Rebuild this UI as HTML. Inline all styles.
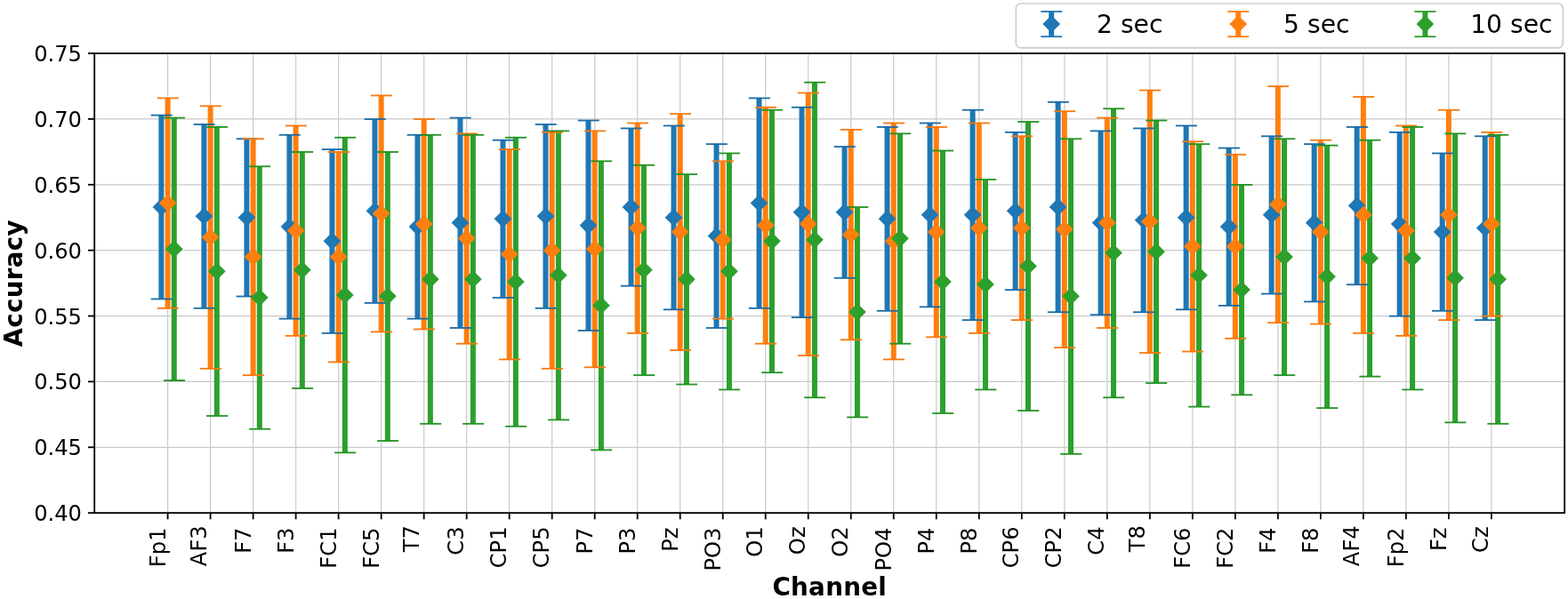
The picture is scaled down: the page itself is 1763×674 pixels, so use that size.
<!DOCTYPE html>
<html lang="en"><head><meta charset="utf-8"><title>Accuracy per channel</title>
<style>html,body{margin:0;padding:0;background:#fff}body{width:1763px;height:674px;overflow:hidden}svg{display:block}text{font-family:'DejaVu Sans','Liberation Sans',sans-serif;fill:#000}.b{font-weight:bold}</style></head><body>
<svg width="1763" height="674" viewBox="0 0 1763 674">
<rect x="0" y="0" width="1763" height="674" fill="#fff"/>
<g stroke="#cacaca" stroke-width="1.2" fill="none"><line x1="188.6" y1="60.05" x2="188.6" y2="577.15"/><line x1="236.61" y1="60.05" x2="236.61" y2="577.15"/><line x1="284.62" y1="60.05" x2="284.62" y2="577.15"/><line x1="332.63" y1="60.05" x2="332.63" y2="577.15"/><line x1="380.64" y1="60.05" x2="380.64" y2="577.15"/><line x1="428.65" y1="60.05" x2="428.65" y2="577.15"/><line x1="476.66" y1="60.05" x2="476.66" y2="577.15"/><line x1="524.67" y1="60.05" x2="524.67" y2="577.15"/><line x1="572.68" y1="60.05" x2="572.68" y2="577.15"/><line x1="620.69" y1="60.05" x2="620.69" y2="577.15"/><line x1="668.7" y1="60.05" x2="668.7" y2="577.15"/><line x1="716.71" y1="60.05" x2="716.71" y2="577.15"/><line x1="764.72" y1="60.05" x2="764.72" y2="577.15"/><line x1="812.73" y1="60.05" x2="812.73" y2="577.15"/><line x1="860.74" y1="60.05" x2="860.74" y2="577.15"/><line x1="908.75" y1="60.05" x2="908.75" y2="577.15"/><line x1="956.76" y1="60.05" x2="956.76" y2="577.15"/><line x1="1004.77" y1="60.05" x2="1004.77" y2="577.15"/><line x1="1052.78" y1="60.05" x2="1052.78" y2="577.15"/><line x1="1100.79" y1="60.05" x2="1100.79" y2="577.15"/><line x1="1148.8" y1="60.05" x2="1148.8" y2="577.15"/><line x1="1196.81" y1="60.05" x2="1196.81" y2="577.15"/><line x1="1244.82" y1="60.05" x2="1244.82" y2="577.15"/><line x1="1292.83" y1="60.05" x2="1292.83" y2="577.15"/><line x1="1340.84" y1="60.05" x2="1340.84" y2="577.15"/><line x1="1388.85" y1="60.05" x2="1388.85" y2="577.15"/><line x1="1436.86" y1="60.05" x2="1436.86" y2="577.15"/><line x1="1484.87" y1="60.05" x2="1484.87" y2="577.15"/><line x1="1532.88" y1="60.05" x2="1532.88" y2="577.15"/><line x1="1580.89" y1="60.05" x2="1580.89" y2="577.15"/><line x1="1628.9" y1="60.05" x2="1628.9" y2="577.15"/><line x1="1676.91" y1="60.05" x2="1676.91" y2="577.15"/></g><g stroke="#cacaca" stroke-width="1.3" fill="none"><line x1="106.2" y1="577.15" x2="1759.15" y2="577.15"/><line x1="106.2" y1="503.28" x2="1759.15" y2="503.28"/><line x1="106.2" y1="429.41" x2="1759.15" y2="429.41"/><line x1="106.2" y1="355.54" x2="1759.15" y2="355.54"/><line x1="106.2" y1="281.66" x2="1759.15" y2="281.66"/><line x1="106.2" y1="207.79" x2="1759.15" y2="207.79"/><line x1="106.2" y1="133.92" x2="1759.15" y2="133.92"/><line x1="106.2" y1="60.05" x2="1759.15" y2="60.05"/></g>
<g stroke="#1f77b4" stroke-width="6" fill="none"><line x1="181.4" y1="129.49" x2="181.4" y2="336.33"/><line x1="229.41" y1="139.83" x2="229.41" y2="346.67"/><line x1="277.42" y1="156.08" x2="277.42" y2="333.37"/><line x1="325.43" y1="151.65" x2="325.43" y2="358.49"/><line x1="373.44" y1="167.9" x2="373.44" y2="374.74"/><line x1="421.45" y1="133.92" x2="421.45" y2="340.76"/><line x1="469.46" y1="151.65" x2="469.46" y2="358.49"/><line x1="517.47" y1="132.44" x2="517.47" y2="368.83"/><line x1="565.48" y1="157.56" x2="565.48" y2="334.85"/><line x1="613.49" y1="139.83" x2="613.49" y2="346.67"/><line x1="661.5" y1="135.4" x2="661.5" y2="371.79"/><line x1="709.51" y1="144.26" x2="709.51" y2="321.55"/><line x1="757.52" y1="141.31" x2="757.52" y2="348.15"/><line x1="805.53" y1="161.99" x2="805.53" y2="368.83"/><line x1="853.54" y1="110.28" x2="853.54" y2="346.67"/><line x1="901.55" y1="120.62" x2="901.55" y2="357.01"/><line x1="949.56" y1="164.95" x2="949.56" y2="312.69"/><line x1="997.57" y1="142.79" x2="997.57" y2="349.63"/><line x1="1045.58" y1="138.35" x2="1045.58" y2="345.19"/><line x1="1093.59" y1="123.58" x2="1093.59" y2="359.97"/><line x1="1141.6" y1="148.7" x2="1141.6" y2="325.99"/><line x1="1189.61" y1="114.71" x2="1189.61" y2="351.1"/><line x1="1237.62" y1="147.22" x2="1237.62" y2="354.06"/><line x1="1285.63" y1="144.26" x2="1285.63" y2="351.1"/><line x1="1333.64" y1="141.31" x2="1333.64" y2="348.15"/><line x1="1381.65" y1="166.42" x2="1381.65" y2="343.72"/><line x1="1429.66" y1="153.13" x2="1429.66" y2="330.42"/><line x1="1477.67" y1="161.99" x2="1477.67" y2="339.28"/><line x1="1525.68" y1="142.79" x2="1525.68" y2="320.08"/><line x1="1573.69" y1="148.7" x2="1573.69" y2="355.54"/><line x1="1621.7" y1="172.33" x2="1621.7" y2="349.63"/><line x1="1669.71" y1="153.13" x2="1669.71" y2="359.97"/></g>
<g stroke="#ff7f0e" stroke-width="6" fill="none"><line x1="188.6" y1="110.28" x2="188.6" y2="346.67"/><line x1="236.61" y1="119.15" x2="236.61" y2="414.63"/><line x1="284.62" y1="156.08" x2="284.62" y2="422.02"/><line x1="332.63" y1="141.31" x2="332.63" y2="377.7"/><line x1="380.64" y1="170.86" x2="380.64" y2="407.25"/><line x1="428.65" y1="107.33" x2="428.65" y2="373.26"/><line x1="476.66" y1="133.92" x2="476.66" y2="370.31"/><line x1="524.67" y1="150.17" x2="524.67" y2="386.56"/><line x1="572.68" y1="167.9" x2="572.68" y2="404.29"/><line x1="620.69" y1="148.7" x2="620.69" y2="414.63"/><line x1="668.7" y1="147.22" x2="668.7" y2="413.16"/><line x1="716.71" y1="138.35" x2="716.71" y2="374.74"/><line x1="764.72" y1="128.01" x2="764.72" y2="393.95"/><line x1="812.73" y1="181.2" x2="812.73" y2="358.49"/><line x1="860.74" y1="120.62" x2="860.74" y2="386.56"/><line x1="908.75" y1="104.37" x2="908.75" y2="399.86"/><line x1="956.76" y1="145.74" x2="956.76" y2="382.13"/><line x1="1004.77" y1="138.35" x2="1004.77" y2="404.29"/><line x1="1052.78" y1="142.79" x2="1052.78" y2="379.17"/><line x1="1100.79" y1="138.35" x2="1100.79" y2="374.74"/><line x1="1148.8" y1="153.13" x2="1148.8" y2="359.97"/><line x1="1196.81" y1="125.06" x2="1196.81" y2="390.99"/><line x1="1244.82" y1="132.44" x2="1244.82" y2="368.83"/><line x1="1292.83" y1="101.42" x2="1292.83" y2="396.9"/><line x1="1340.84" y1="159.04" x2="1340.84" y2="395.43"/><line x1="1388.85" y1="173.81" x2="1388.85" y2="380.65"/><line x1="1436.86" y1="96.99" x2="1436.86" y2="362.92"/><line x1="1484.87" y1="157.56" x2="1484.87" y2="364.4"/><line x1="1532.88" y1="108.81" x2="1532.88" y2="374.74"/><line x1="1580.89" y1="141.31" x2="1580.89" y2="377.7"/><line x1="1628.9" y1="123.58" x2="1628.9" y2="359.97"/><line x1="1676.91" y1="148.7" x2="1676.91" y2="355.54"/></g>
<g stroke="#2ca02c" stroke-width="6" fill="none"><line x1="195.8" y1="132.44" x2="195.8" y2="427.93"/><line x1="243.81" y1="142.79" x2="243.81" y2="467.82"/><line x1="291.82" y1="187.11" x2="291.82" y2="482.59"/><line x1="339.83" y1="170.86" x2="339.83" y2="436.79"/><line x1="387.84" y1="154.61" x2="387.84" y2="509.19"/><line x1="435.85" y1="170.86" x2="435.85" y2="495.89"/><line x1="483.86" y1="151.65" x2="483.86" y2="476.68"/><line x1="531.87" y1="151.65" x2="531.87" y2="476.68"/><line x1="579.88" y1="154.61" x2="579.88" y2="479.64"/><line x1="627.89" y1="147.22" x2="627.89" y2="472.25"/><line x1="675.9" y1="181.2" x2="675.9" y2="506.23"/><line x1="723.91" y1="185.63" x2="723.91" y2="422.02"/><line x1="771.92" y1="195.97" x2="771.92" y2="432.36"/><line x1="819.93" y1="172.33" x2="819.93" y2="438.27"/><line x1="867.94" y1="123.58" x2="867.94" y2="419.07"/><line x1="915.95" y1="92.55" x2="915.95" y2="447.14"/><line x1="963.96" y1="232.91" x2="963.96" y2="469.3"/><line x1="1011.97" y1="150.17" x2="1011.97" y2="386.56"/><line x1="1059.98" y1="169.38" x2="1059.98" y2="464.87"/><line x1="1107.99" y1="201.88" x2="1107.99" y2="438.27"/><line x1="1156" y1="136.88" x2="1156" y2="461.91"/><line x1="1204.01" y1="156.08" x2="1204.01" y2="510.67"/><line x1="1252.02" y1="122.1" x2="1252.02" y2="447.14"/><line x1="1300.03" y1="135.4" x2="1300.03" y2="430.88"/><line x1="1348.04" y1="161.99" x2="1348.04" y2="457.48"/><line x1="1396.05" y1="207.79" x2="1396.05" y2="444.18"/><line x1="1444.06" y1="156.08" x2="1444.06" y2="422.02"/><line x1="1492.07" y1="163.47" x2="1492.07" y2="458.96"/><line x1="1540.08" y1="157.56" x2="1540.08" y2="423.5"/><line x1="1588.09" y1="142.79" x2="1588.09" y2="438.27"/><line x1="1636.1" y1="150.17" x2="1636.1" y2="475.21"/><line x1="1684.11" y1="151.65" x2="1684.11" y2="476.68"/></g>
<g stroke="#1a6ba5" stroke-width="1.8" fill="none"><line x1="169.65" y1="336.48" x2="193.65" y2="336.48"/><line x1="169.65" y1="129.64" x2="193.65" y2="129.64"/><line x1="217.66" y1="346.82" x2="241.66" y2="346.82"/><line x1="217.66" y1="139.98" x2="241.66" y2="139.98"/><line x1="265.67" y1="333.52" x2="289.67" y2="333.52"/><line x1="265.67" y1="156.23" x2="289.67" y2="156.23"/><line x1="313.68" y1="358.64" x2="337.68" y2="358.64"/><line x1="313.68" y1="151.8" x2="337.68" y2="151.8"/><line x1="361.69" y1="374.89" x2="385.69" y2="374.89"/><line x1="361.69" y1="168.05" x2="385.69" y2="168.05"/><line x1="409.7" y1="340.91" x2="433.7" y2="340.91"/><line x1="409.7" y1="134.07" x2="433.7" y2="134.07"/><line x1="457.71" y1="358.64" x2="481.71" y2="358.64"/><line x1="457.71" y1="151.8" x2="481.71" y2="151.8"/><line x1="505.72" y1="368.98" x2="529.72" y2="368.98"/><line x1="505.72" y1="132.59" x2="529.72" y2="132.59"/><line x1="553.73" y1="335" x2="577.73" y2="335"/><line x1="553.73" y1="157.71" x2="577.73" y2="157.71"/><line x1="601.74" y1="346.82" x2="625.74" y2="346.82"/><line x1="601.74" y1="139.98" x2="625.74" y2="139.98"/><line x1="649.75" y1="371.94" x2="673.75" y2="371.94"/><line x1="649.75" y1="135.55" x2="673.75" y2="135.55"/><line x1="697.76" y1="321.7" x2="721.76" y2="321.7"/><line x1="697.76" y1="144.41" x2="721.76" y2="144.41"/><line x1="745.77" y1="348.3" x2="769.77" y2="348.3"/><line x1="745.77" y1="141.46" x2="769.77" y2="141.46"/><line x1="793.78" y1="368.98" x2="817.78" y2="368.98"/><line x1="793.78" y1="162.14" x2="817.78" y2="162.14"/><line x1="841.79" y1="346.82" x2="865.79" y2="346.82"/><line x1="841.79" y1="110.43" x2="865.79" y2="110.43"/><line x1="889.8" y1="357.16" x2="913.8" y2="357.16"/><line x1="889.8" y1="120.77" x2="913.8" y2="120.77"/><line x1="937.81" y1="312.84" x2="961.81" y2="312.84"/><line x1="937.81" y1="165.1" x2="961.81" y2="165.1"/><line x1="985.82" y1="349.78" x2="1009.82" y2="349.78"/><line x1="985.82" y1="142.94" x2="1009.82" y2="142.94"/><line x1="1033.83" y1="345.34" x2="1057.83" y2="345.34"/><line x1="1033.83" y1="138.5" x2="1057.83" y2="138.5"/><line x1="1081.84" y1="360.12" x2="1105.84" y2="360.12"/><line x1="1081.84" y1="123.73" x2="1105.84" y2="123.73"/><line x1="1129.85" y1="326.14" x2="1153.85" y2="326.14"/><line x1="1129.85" y1="148.85" x2="1153.85" y2="148.85"/><line x1="1177.86" y1="351.25" x2="1201.86" y2="351.25"/><line x1="1177.86" y1="114.86" x2="1201.86" y2="114.86"/><line x1="1225.87" y1="354.21" x2="1249.87" y2="354.21"/><line x1="1225.87" y1="147.37" x2="1249.87" y2="147.37"/><line x1="1273.88" y1="351.25" x2="1297.88" y2="351.25"/><line x1="1273.88" y1="144.41" x2="1297.88" y2="144.41"/><line x1="1321.89" y1="348.3" x2="1345.89" y2="348.3"/><line x1="1321.89" y1="141.46" x2="1345.89" y2="141.46"/><line x1="1369.9" y1="343.87" x2="1393.9" y2="343.87"/><line x1="1369.9" y1="166.57" x2="1393.9" y2="166.57"/><line x1="1417.91" y1="330.57" x2="1441.91" y2="330.57"/><line x1="1417.91" y1="153.28" x2="1441.91" y2="153.28"/><line x1="1465.92" y1="339.43" x2="1489.92" y2="339.43"/><line x1="1465.92" y1="162.14" x2="1489.92" y2="162.14"/><line x1="1513.93" y1="320.23" x2="1537.93" y2="320.23"/><line x1="1513.93" y1="142.94" x2="1537.93" y2="142.94"/><line x1="1561.94" y1="355.69" x2="1585.94" y2="355.69"/><line x1="1561.94" y1="148.85" x2="1585.94" y2="148.85"/><line x1="1609.95" y1="349.78" x2="1633.95" y2="349.78"/><line x1="1609.95" y1="172.48" x2="1633.95" y2="172.48"/><line x1="1657.96" y1="360.12" x2="1681.96" y2="360.12"/><line x1="1657.96" y1="153.28" x2="1681.96" y2="153.28"/></g>
<g stroke="#f7780b" stroke-width="1.8" fill="none"><line x1="176.85" y1="346.82" x2="200.85" y2="346.82"/><line x1="176.85" y1="110.43" x2="200.85" y2="110.43"/><line x1="224.86" y1="414.78" x2="248.86" y2="414.78"/><line x1="224.86" y1="119.3" x2="248.86" y2="119.3"/><line x1="272.87" y1="422.17" x2="296.87" y2="422.17"/><line x1="272.87" y1="156.23" x2="296.87" y2="156.23"/><line x1="320.88" y1="377.85" x2="344.88" y2="377.85"/><line x1="320.88" y1="141.46" x2="344.88" y2="141.46"/><line x1="368.89" y1="407.4" x2="392.89" y2="407.4"/><line x1="368.89" y1="171.01" x2="392.89" y2="171.01"/><line x1="416.9" y1="373.41" x2="440.9" y2="373.41"/><line x1="416.9" y1="107.48" x2="440.9" y2="107.48"/><line x1="464.91" y1="370.46" x2="488.91" y2="370.46"/><line x1="464.91" y1="134.07" x2="488.91" y2="134.07"/><line x1="512.92" y1="386.71" x2="536.92" y2="386.71"/><line x1="512.92" y1="150.32" x2="536.92" y2="150.32"/><line x1="560.93" y1="404.44" x2="584.93" y2="404.44"/><line x1="560.93" y1="168.05" x2="584.93" y2="168.05"/><line x1="608.94" y1="414.78" x2="632.94" y2="414.78"/><line x1="608.94" y1="148.85" x2="632.94" y2="148.85"/><line x1="656.95" y1="413.31" x2="680.95" y2="413.31"/><line x1="656.95" y1="147.37" x2="680.95" y2="147.37"/><line x1="704.96" y1="374.89" x2="728.96" y2="374.89"/><line x1="704.96" y1="138.5" x2="728.96" y2="138.5"/><line x1="752.97" y1="394.1" x2="776.97" y2="394.1"/><line x1="752.97" y1="128.16" x2="776.97" y2="128.16"/><line x1="800.98" y1="358.64" x2="824.98" y2="358.64"/><line x1="800.98" y1="181.35" x2="824.98" y2="181.35"/><line x1="848.99" y1="386.71" x2="872.99" y2="386.71"/><line x1="848.99" y1="120.77" x2="872.99" y2="120.77"/><line x1="897" y1="400.01" x2="921" y2="400.01"/><line x1="897" y1="104.52" x2="921" y2="104.52"/><line x1="945.01" y1="382.28" x2="969.01" y2="382.28"/><line x1="945.01" y1="145.89" x2="969.01" y2="145.89"/><line x1="993.02" y1="404.44" x2="1017.02" y2="404.44"/><line x1="993.02" y1="138.5" x2="1017.02" y2="138.5"/><line x1="1041.03" y1="379.32" x2="1065.03" y2="379.32"/><line x1="1041.03" y1="142.94" x2="1065.03" y2="142.94"/><line x1="1089.04" y1="374.89" x2="1113.04" y2="374.89"/><line x1="1089.04" y1="138.5" x2="1113.04" y2="138.5"/><line x1="1137.05" y1="360.12" x2="1161.05" y2="360.12"/><line x1="1137.05" y1="153.28" x2="1161.05" y2="153.28"/><line x1="1185.06" y1="391.14" x2="1209.06" y2="391.14"/><line x1="1185.06" y1="125.21" x2="1209.06" y2="125.21"/><line x1="1233.07" y1="368.98" x2="1257.07" y2="368.98"/><line x1="1233.07" y1="132.59" x2="1257.07" y2="132.59"/><line x1="1281.08" y1="397.05" x2="1305.08" y2="397.05"/><line x1="1281.08" y1="101.57" x2="1305.08" y2="101.57"/><line x1="1329.09" y1="395.58" x2="1353.09" y2="395.58"/><line x1="1329.09" y1="159.19" x2="1353.09" y2="159.19"/><line x1="1377.1" y1="380.8" x2="1401.1" y2="380.8"/><line x1="1377.1" y1="173.96" x2="1401.1" y2="173.96"/><line x1="1425.11" y1="363.07" x2="1449.11" y2="363.07"/><line x1="1425.11" y1="97.14" x2="1449.11" y2="97.14"/><line x1="1473.12" y1="364.55" x2="1497.12" y2="364.55"/><line x1="1473.12" y1="157.71" x2="1497.12" y2="157.71"/><line x1="1521.13" y1="374.89" x2="1545.13" y2="374.89"/><line x1="1521.13" y1="108.96" x2="1545.13" y2="108.96"/><line x1="1569.14" y1="377.85" x2="1593.14" y2="377.85"/><line x1="1569.14" y1="141.46" x2="1593.14" y2="141.46"/><line x1="1617.15" y1="360.12" x2="1641.15" y2="360.12"/><line x1="1617.15" y1="123.73" x2="1641.15" y2="123.73"/><line x1="1665.16" y1="355.69" x2="1689.16" y2="355.69"/><line x1="1665.16" y1="148.85" x2="1689.16" y2="148.85"/></g>
<g stroke="#229322" stroke-width="1.8" fill="none"><line x1="184.05" y1="428.08" x2="208.05" y2="428.08"/><line x1="184.05" y1="132.59" x2="208.05" y2="132.59"/><line x1="232.06" y1="467.97" x2="256.06" y2="467.97"/><line x1="232.06" y1="142.94" x2="256.06" y2="142.94"/><line x1="280.07" y1="482.74" x2="304.07" y2="482.74"/><line x1="280.07" y1="187.26" x2="304.07" y2="187.26"/><line x1="328.08" y1="436.94" x2="352.08" y2="436.94"/><line x1="328.08" y1="171.01" x2="352.08" y2="171.01"/><line x1="376.09" y1="509.34" x2="400.09" y2="509.34"/><line x1="376.09" y1="154.76" x2="400.09" y2="154.76"/><line x1="424.1" y1="496.04" x2="448.1" y2="496.04"/><line x1="424.1" y1="171.01" x2="448.1" y2="171.01"/><line x1="472.11" y1="476.83" x2="496.11" y2="476.83"/><line x1="472.11" y1="151.8" x2="496.11" y2="151.8"/><line x1="520.12" y1="476.83" x2="544.12" y2="476.83"/><line x1="520.12" y1="151.8" x2="544.12" y2="151.8"/><line x1="568.13" y1="479.79" x2="592.13" y2="479.79"/><line x1="568.13" y1="154.76" x2="592.13" y2="154.76"/><line x1="616.14" y1="472.4" x2="640.14" y2="472.4"/><line x1="616.14" y1="147.37" x2="640.14" y2="147.37"/><line x1="664.15" y1="506.38" x2="688.15" y2="506.38"/><line x1="664.15" y1="181.35" x2="688.15" y2="181.35"/><line x1="712.16" y1="422.17" x2="736.16" y2="422.17"/><line x1="712.16" y1="185.78" x2="736.16" y2="185.78"/><line x1="760.17" y1="432.51" x2="784.17" y2="432.51"/><line x1="760.17" y1="196.12" x2="784.17" y2="196.12"/><line x1="808.18" y1="438.42" x2="832.18" y2="438.42"/><line x1="808.18" y1="172.48" x2="832.18" y2="172.48"/><line x1="856.19" y1="419.22" x2="880.19" y2="419.22"/><line x1="856.19" y1="123.73" x2="880.19" y2="123.73"/><line x1="904.2" y1="447.29" x2="928.2" y2="447.29"/><line x1="904.2" y1="92.7" x2="928.2" y2="92.7"/><line x1="952.21" y1="469.45" x2="976.21" y2="469.45"/><line x1="952.21" y1="233.06" x2="976.21" y2="233.06"/><line x1="1000.22" y1="386.71" x2="1024.22" y2="386.71"/><line x1="1000.22" y1="150.32" x2="1024.22" y2="150.32"/><line x1="1048.23" y1="465.02" x2="1072.23" y2="465.02"/><line x1="1048.23" y1="169.53" x2="1072.23" y2="169.53"/><line x1="1096.24" y1="438.42" x2="1120.24" y2="438.42"/><line x1="1096.24" y1="202.03" x2="1120.24" y2="202.03"/><line x1="1144.25" y1="462.06" x2="1168.25" y2="462.06"/><line x1="1144.25" y1="137.03" x2="1168.25" y2="137.03"/><line x1="1192.26" y1="510.82" x2="1216.26" y2="510.82"/><line x1="1192.26" y1="156.23" x2="1216.26" y2="156.23"/><line x1="1240.27" y1="447.29" x2="1264.27" y2="447.29"/><line x1="1240.27" y1="122.25" x2="1264.27" y2="122.25"/><line x1="1288.28" y1="431.03" x2="1312.28" y2="431.03"/><line x1="1288.28" y1="135.55" x2="1312.28" y2="135.55"/><line x1="1336.29" y1="457.63" x2="1360.29" y2="457.63"/><line x1="1336.29" y1="162.14" x2="1360.29" y2="162.14"/><line x1="1384.3" y1="444.33" x2="1408.3" y2="444.33"/><line x1="1384.3" y1="207.94" x2="1408.3" y2="207.94"/><line x1="1432.31" y1="422.17" x2="1456.31" y2="422.17"/><line x1="1432.31" y1="156.23" x2="1456.31" y2="156.23"/><line x1="1480.32" y1="459.11" x2="1504.32" y2="459.11"/><line x1="1480.32" y1="163.62" x2="1504.32" y2="163.62"/><line x1="1528.33" y1="423.65" x2="1552.33" y2="423.65"/><line x1="1528.33" y1="157.71" x2="1552.33" y2="157.71"/><line x1="1576.34" y1="438.42" x2="1600.34" y2="438.42"/><line x1="1576.34" y1="142.94" x2="1600.34" y2="142.94"/><line x1="1624.35" y1="475.36" x2="1648.35" y2="475.36"/><line x1="1624.35" y1="150.32" x2="1648.35" y2="150.32"/><line x1="1672.36" y1="476.83" x2="1696.36" y2="476.83"/><line x1="1672.36" y1="151.8" x2="1696.36" y2="151.8"/></g>
<g fill="#1f77b4" stroke="none"><path d="M171.55 232.91L181.4 223.06L191.25 232.91L181.4 242.76Z"/><path d="M219.56 243.25L229.41 233.4L239.26 243.25L229.41 253.1Z"/><path d="M267.57 244.73L277.42 234.88L287.27 244.73L277.42 254.58Z"/><path d="M315.58 255.07L325.43 245.22L335.28 255.07L325.43 264.92Z"/><path d="M363.59 271.32L373.44 261.47L383.29 271.32L373.44 281.17Z"/><path d="M411.6 237.34L421.45 227.49L431.3 237.34L421.45 247.19Z"/><path d="M459.61 255.07L469.46 245.22L479.31 255.07L469.46 264.92Z"/><path d="M507.62 250.64L517.47 240.79L527.32 250.64L517.47 260.49Z"/><path d="M555.63 246.21L565.48 236.36L575.33 246.21L565.48 256.06Z"/><path d="M603.64 243.25L613.49 233.4L623.34 243.25L613.49 253.1Z"/><path d="M651.65 253.59L661.5 243.74L671.35 253.59L661.5 263.44Z"/><path d="M699.66 232.91L709.51 223.06L719.36 232.91L709.51 242.76Z"/><path d="M747.67 244.73L757.52 234.88L767.37 244.73L757.52 254.58Z"/><path d="M795.68 265.41L805.53 255.56L815.38 265.41L805.53 275.26Z"/><path d="M843.69 228.48L853.54 218.63L863.39 228.48L853.54 238.33Z"/><path d="M891.7 238.82L901.55 228.97L911.4 238.82L901.55 248.67Z"/><path d="M939.71 238.82L949.56 228.97L959.41 238.82L949.56 248.67Z"/><path d="M987.72 246.21L997.57 236.36L1007.42 246.21L997.57 256.06Z"/><path d="M1035.73 241.77L1045.58 231.92L1055.43 241.77L1045.58 251.62Z"/><path d="M1083.74 241.77L1093.59 231.92L1103.44 241.77L1093.59 251.62Z"/><path d="M1131.75 237.34L1141.6 227.49L1151.45 237.34L1141.6 247.19Z"/><path d="M1179.76 232.91L1189.61 223.06L1199.46 232.91L1189.61 242.76Z"/><path d="M1227.77 250.64L1237.62 240.79L1247.47 250.64L1237.62 260.49Z"/><path d="M1275.78 247.68L1285.63 237.83L1295.48 247.68L1285.63 257.53Z"/><path d="M1323.79 244.73L1333.64 234.88L1343.49 244.73L1333.64 254.58Z"/><path d="M1371.8 255.07L1381.65 245.22L1391.5 255.07L1381.65 264.92Z"/><path d="M1419.81 241.77L1429.66 231.92L1439.51 241.77L1429.66 251.62Z"/><path d="M1467.82 250.64L1477.67 240.79L1487.52 250.64L1477.67 260.49Z"/><path d="M1515.83 231.43L1525.68 221.58L1535.53 231.43L1525.68 241.28Z"/><path d="M1563.84 252.12L1573.69 242.27L1583.54 252.12L1573.69 261.97Z"/><path d="M1611.85 260.98L1621.7 251.13L1631.55 260.98L1621.7 270.83Z"/><path d="M1659.86 256.55L1669.71 246.7L1679.56 256.55L1669.71 266.4Z"/></g>
<g fill="#ff7f0e" stroke="none"><path d="M178.75 228.48L188.6 218.63L198.45 228.48L188.6 238.33Z"/><path d="M226.76 266.89L236.61 257.04L246.46 266.89L236.61 276.74Z"/><path d="M274.77 289.05L284.62 279.2L294.47 289.05L284.62 298.9Z"/><path d="M322.78 259.5L332.63 249.65L342.48 259.5L332.63 269.35Z"/><path d="M370.79 289.05L380.64 279.2L390.49 289.05L380.64 298.9Z"/><path d="M418.8 240.3L428.65 230.45L438.5 240.3L428.65 250.15Z"/><path d="M466.81 252.12L476.66 242.27L486.51 252.12L476.66 261.97Z"/><path d="M514.82 268.37L524.67 258.52L534.52 268.37L524.67 278.22Z"/><path d="M562.83 286.1L572.68 276.25L582.53 286.1L572.68 295.95Z"/><path d="M610.84 281.66L620.69 271.81L630.54 281.66L620.69 291.51Z"/><path d="M658.85 280.19L668.7 270.34L678.55 280.19L668.7 290.04Z"/><path d="M706.86 256.55L716.71 246.7L726.56 256.55L716.71 266.4Z"/><path d="M754.87 260.98L764.72 251.13L774.57 260.98L764.72 270.83Z"/><path d="M802.88 269.84L812.73 259.99L822.58 269.84L812.73 279.69Z"/><path d="M850.89 253.59L860.74 243.74L870.59 253.59L860.74 263.44Z"/><path d="M898.9 252.12L908.75 242.27L918.6 252.12L908.75 261.97Z"/><path d="M946.91 263.94L956.76 254.09L966.61 263.94L956.76 273.79Z"/><path d="M994.92 271.32L1004.77 261.47L1014.62 271.32L1004.77 281.17Z"/><path d="M1042.93 260.98L1052.78 251.13L1062.63 260.98L1052.78 270.83Z"/><path d="M1090.94 256.55L1100.79 246.7L1110.64 256.55L1100.79 266.4Z"/><path d="M1138.95 256.55L1148.8 246.7L1158.65 256.55L1148.8 266.4Z"/><path d="M1186.96 258.03L1196.81 248.18L1206.66 258.03L1196.81 267.88Z"/><path d="M1234.97 250.64L1244.82 240.79L1254.67 250.64L1244.82 260.49Z"/><path d="M1282.98 249.16L1292.83 239.31L1302.68 249.16L1292.83 259.01Z"/><path d="M1330.99 277.23L1340.84 267.38L1350.69 277.23L1340.84 287.08Z"/><path d="M1379 277.23L1388.85 267.38L1398.7 277.23L1388.85 287.08Z"/><path d="M1427.01 229.95L1436.86 220.1L1446.71 229.95L1436.86 239.8Z"/><path d="M1475.02 260.98L1484.87 251.13L1494.72 260.98L1484.87 270.83Z"/><path d="M1523.03 241.77L1532.88 231.92L1542.73 241.77L1532.88 251.62Z"/><path d="M1571.04 259.5L1580.89 249.65L1590.74 259.5L1580.89 269.35Z"/><path d="M1619.05 241.77L1628.9 231.92L1638.75 241.77L1628.9 251.62Z"/><path d="M1667.06 252.12L1676.91 242.27L1686.76 252.12L1676.91 261.97Z"/></g>
<g fill="#2ca02c" stroke="none"><path d="M185.95 280.19L195.8 270.34L205.65 280.19L195.8 290.04Z"/><path d="M233.96 305.3L243.81 295.45L253.66 305.3L243.81 315.15Z"/><path d="M281.97 334.85L291.82 325L301.67 334.85L291.82 344.7Z"/><path d="M329.98 303.83L339.83 293.98L349.68 303.83L339.83 313.68Z"/><path d="M377.99 331.9L387.84 322.05L397.69 331.9L387.84 341.75Z"/><path d="M426 333.37L435.85 323.52L445.7 333.37L435.85 343.22Z"/><path d="M474.01 314.17L483.86 304.32L493.71 314.17L483.86 324.02Z"/><path d="M522.02 314.17L531.87 304.32L541.72 314.17L531.87 324.02Z"/><path d="M570.03 317.12L579.88 307.27L589.73 317.12L579.88 326.97Z"/><path d="M618.04 309.74L627.89 299.89L637.74 309.74L627.89 319.59Z"/><path d="M666.05 343.72L675.9 333.87L685.75 343.72L675.9 353.57Z"/><path d="M714.06 303.83L723.91 293.98L733.76 303.83L723.91 313.68Z"/><path d="M762.07 314.17L771.92 304.32L781.77 314.17L771.92 324.02Z"/><path d="M810.08 305.3L819.93 295.45L829.78 305.3L819.93 315.15Z"/><path d="M858.09 271.32L867.94 261.47L877.79 271.32L867.94 281.17Z"/><path d="M906.1 269.84L915.95 259.99L925.8 269.84L915.95 279.69Z"/><path d="M954.11 351.1L963.96 341.25L973.81 351.1L963.96 360.95Z"/><path d="M1002.12 268.37L1011.97 258.52L1021.82 268.37L1011.97 278.22Z"/><path d="M1050.13 317.12L1059.98 307.27L1069.83 317.12L1059.98 326.97Z"/><path d="M1098.14 320.08L1107.99 310.23L1117.84 320.08L1107.99 329.93Z"/><path d="M1146.15 299.39L1156 289.54L1165.85 299.39L1156 309.24Z"/><path d="M1194.16 333.37L1204.01 323.52L1213.86 333.37L1204.01 343.22Z"/><path d="M1242.17 284.62L1252.02 274.77L1261.87 284.62L1252.02 294.47Z"/><path d="M1290.18 283.14L1300.03 273.29L1309.88 283.14L1300.03 292.99Z"/><path d="M1338.19 309.74L1348.04 299.89L1357.89 309.74L1348.04 319.59Z"/><path d="M1386.2 325.99L1396.05 316.14L1405.9 325.99L1396.05 335.84Z"/><path d="M1434.21 289.05L1444.06 279.2L1453.91 289.05L1444.06 298.9Z"/><path d="M1482.22 311.21L1492.07 301.36L1501.92 311.21L1492.07 321.06Z"/><path d="M1530.23 290.53L1540.08 280.68L1549.93 290.53L1540.08 300.38Z"/><path d="M1578.24 290.53L1588.09 280.68L1597.94 290.53L1588.09 300.38Z"/><path d="M1626.25 312.69L1636.1 302.84L1645.95 312.69L1636.1 322.54Z"/><path d="M1674.26 314.17L1684.11 304.32L1693.96 314.17L1684.11 324.02Z"/></g>
<rect x="106.2" y="60.05" width="1652.95" height="517.1" fill="none" stroke="#000" stroke-width="1.8"/>
<g stroke="#000" stroke-width="1.8"><line x1="188.6" y1="577.15" x2="188.6" y2="584.35"/><line x1="236.61" y1="577.15" x2="236.61" y2="584.35"/><line x1="284.62" y1="577.15" x2="284.62" y2="584.35"/><line x1="332.63" y1="577.15" x2="332.63" y2="584.35"/><line x1="380.64" y1="577.15" x2="380.64" y2="584.35"/><line x1="428.65" y1="577.15" x2="428.65" y2="584.35"/><line x1="476.66" y1="577.15" x2="476.66" y2="584.35"/><line x1="524.67" y1="577.15" x2="524.67" y2="584.35"/><line x1="572.68" y1="577.15" x2="572.68" y2="584.35"/><line x1="620.69" y1="577.15" x2="620.69" y2="584.35"/><line x1="668.7" y1="577.15" x2="668.7" y2="584.35"/><line x1="716.71" y1="577.15" x2="716.71" y2="584.35"/><line x1="764.72" y1="577.15" x2="764.72" y2="584.35"/><line x1="812.73" y1="577.15" x2="812.73" y2="584.35"/><line x1="860.74" y1="577.15" x2="860.74" y2="584.35"/><line x1="908.75" y1="577.15" x2="908.75" y2="584.35"/><line x1="956.76" y1="577.15" x2="956.76" y2="584.35"/><line x1="1004.77" y1="577.15" x2="1004.77" y2="584.35"/><line x1="1052.78" y1="577.15" x2="1052.78" y2="584.35"/><line x1="1100.79" y1="577.15" x2="1100.79" y2="584.35"/><line x1="1148.8" y1="577.15" x2="1148.8" y2="584.35"/><line x1="1196.81" y1="577.15" x2="1196.81" y2="584.35"/><line x1="1244.82" y1="577.15" x2="1244.82" y2="584.35"/><line x1="1292.83" y1="577.15" x2="1292.83" y2="584.35"/><line x1="1340.84" y1="577.15" x2="1340.84" y2="584.35"/><line x1="1388.85" y1="577.15" x2="1388.85" y2="584.35"/><line x1="1436.86" y1="577.15" x2="1436.86" y2="584.35"/><line x1="1484.87" y1="577.15" x2="1484.87" y2="584.35"/><line x1="1532.88" y1="577.15" x2="1532.88" y2="584.35"/><line x1="1580.89" y1="577.15" x2="1580.89" y2="584.35"/><line x1="1628.9" y1="577.15" x2="1628.9" y2="584.35"/><line x1="1676.91" y1="577.15" x2="1676.91" y2="584.35"/><line x1="99" y1="577.15" x2="106.2" y2="577.15"/><line x1="99" y1="503.28" x2="106.2" y2="503.28"/><line x1="99" y1="429.41" x2="106.2" y2="429.41"/><line x1="99" y1="355.54" x2="106.2" y2="355.54"/><line x1="99" y1="281.66" x2="106.2" y2="281.66"/><line x1="99" y1="207.79" x2="106.2" y2="207.79"/><line x1="99" y1="133.92" x2="106.2" y2="133.92"/><line x1="99" y1="60.05" x2="106.2" y2="60.05"/></g>
<g font-size="24.2" text-anchor="end"><text x="92" y="586.2">0.40</text><text x="92" y="512.33">0.45</text><text x="92" y="438.46">0.50</text><text x="92" y="364.59">0.55</text><text x="92" y="290.71">0.60</text><text x="92" y="216.84">0.65</text><text x="92" y="142.97">0.70</text><text x="92" y="69.1">0.75</text></g>
<g font-size="24.2" text-anchor="end"><text transform="translate(185.7 593.5) rotate(-90)">Fp1</text><text transform="translate(231.51 591.3) rotate(-90)">AF3</text><text transform="translate(281.72 593.5) rotate(-90)">F7</text><text transform="translate(329.73 593.5) rotate(-90)">F3</text><text transform="translate(377.74 593.5) rotate(-90)">FC1</text><text transform="translate(425.75 593.5) rotate(-90)">FC5</text><text transform="translate(471.26 591) rotate(-90)">T7</text><text transform="translate(520.67 592.4) rotate(-90)">C3</text><text transform="translate(568.68 592.4) rotate(-90)">CP1</text><text transform="translate(616.69 592.4) rotate(-90)">CP5</text><text transform="translate(665.8 593.5) rotate(-90)">P7</text><text transform="translate(713.81 593.5) rotate(-90)">P3</text><text transform="translate(761.82 593.5) rotate(-90)">Pz</text><text transform="translate(809.83 593.5) rotate(-90)">PO3</text><text transform="translate(856.74 592.4) rotate(-90)">O1</text><text transform="translate(904.75 592.4) rotate(-90)">Oz</text><text transform="translate(952.76 592.4) rotate(-90)">O2</text><text transform="translate(1001.87 593.5) rotate(-90)">PO4</text><text transform="translate(1049.88 593.5) rotate(-90)">P4</text><text transform="translate(1097.89 593.5) rotate(-90)">P8</text><text transform="translate(1144.8 592.4) rotate(-90)">CP6</text><text transform="translate(1192.81 592.4) rotate(-90)">CP2</text><text transform="translate(1240.82 592.4) rotate(-90)">C4</text><text transform="translate(1287.43 591) rotate(-90)">T8</text><text transform="translate(1337.94 593.5) rotate(-90)">FC6</text><text transform="translate(1385.95 593.5) rotate(-90)">FC2</text><text transform="translate(1433.96 593.5) rotate(-90)">F4</text><text transform="translate(1481.97 593.5) rotate(-90)">F8</text><text transform="translate(1527.78 591.3) rotate(-90)">AF4</text><text transform="translate(1577.99 593.5) rotate(-90)">Fp2</text><text transform="translate(1626 593.5) rotate(-90)">Fz</text><text transform="translate(1672.91 592.4) rotate(-90)">Cz</text></g>
<text class="b" font-size="27.8" letter-spacing="0.27" text-anchor="middle" x="932.78" y="670">Channel</text>
<text class="b" font-size="27.8" letter-spacing="0.25" text-anchor="middle" transform="translate(24.8 318.9) rotate(-90)">Accuracy</text>
<rect x="1142.3" y="4" width="615.1" height="49.85" rx="5.5" ry="5.5" fill="#fff" fill-opacity="0.8" stroke="#cecece" stroke-width="1.7"/>
<g><line x1="1182.2" y1="13" x2="1182.2" y2="41.2" stroke="#1f77b4" stroke-width="6"/><line x1="1170.2" y1="13" x2="1194.2" y2="13" stroke="#1f77b4" stroke-width="1.8"/><line x1="1170.2" y1="41.2" x2="1194.2" y2="41.2" stroke="#1f77b4" stroke-width="1.8"/><path d="M1172.35 27.1L1182.2 17.25L1192.05 27.1L1182.2 36.95Z" fill="#1f77b4"/><text font-size="28.2" x="1233" y="37.1">2 sec</text></g>
<g><line x1="1392.3" y1="13" x2="1392.3" y2="41.2" stroke="#ff7f0e" stroke-width="6"/><line x1="1380.3" y1="13" x2="1404.3" y2="13" stroke="#ff7f0e" stroke-width="1.8"/><line x1="1380.3" y1="41.2" x2="1404.3" y2="41.2" stroke="#ff7f0e" stroke-width="1.8"/><path d="M1382.45 27.1L1392.3 17.25L1402.15 27.1L1392.3 36.95Z" fill="#ff7f0e"/><text font-size="28.2" x="1443.1" y="37.1">5 sec</text></g>
<g><line x1="1602.4" y1="13" x2="1602.4" y2="41.2" stroke="#2ca02c" stroke-width="6"/><line x1="1590.4" y1="13" x2="1614.4" y2="13" stroke="#2ca02c" stroke-width="1.8"/><line x1="1590.4" y1="41.2" x2="1614.4" y2="41.2" stroke="#2ca02c" stroke-width="1.8"/><path d="M1592.55 27.1L1602.4 17.25L1612.25 27.1L1602.4 36.95Z" fill="#2ca02c"/><text font-size="28.2" x="1653.2" y="37.1">10 sec</text></g>
</svg></body></html>
